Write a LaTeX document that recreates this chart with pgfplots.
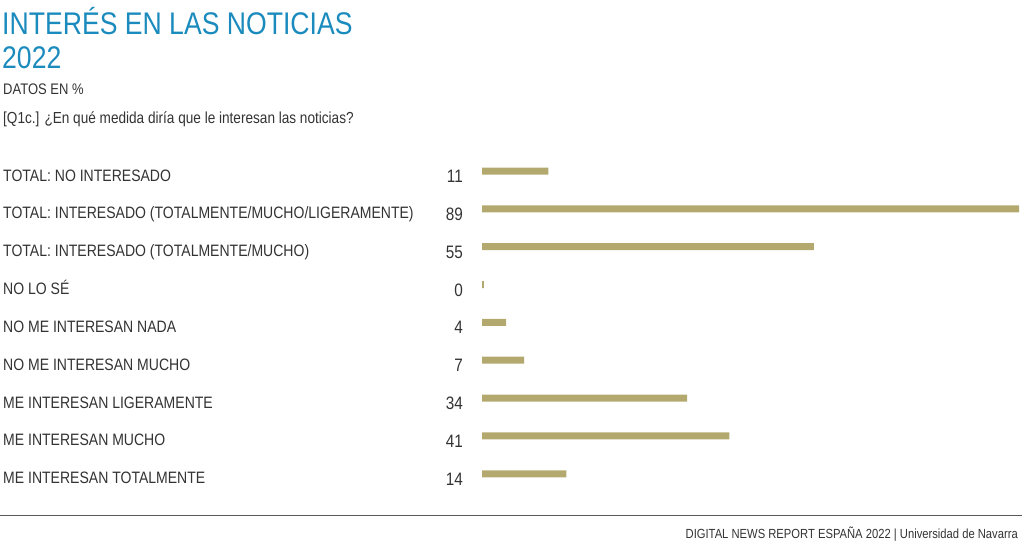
\documentclass[border=0pt]{standalone}
\usepackage{fontspec}
\setmainfont{Liberation Sans}[FakeStretch=0.85]
\usepackage{pgfplots}
\pgfplotsset{compat=1.18}
\definecolor{titleblue}{HTML}{1B8BBD}
\definecolor{bargold}{HTML}{B3A96E}
\definecolor{txt}{HTML}{333333}
\begin{document}
\begin{tikzpicture}
\useasboundingbox (0,0) rectangle (1024pt,-543pt);
\node[anchor=base west, inner sep=0pt, text=titleblue, font=\fontsize{31.3}{33}\selectfont] at (2pt,-35pt) {INTERÉS EN LAS NOTICIAS};
\node[anchor=base west, inner sep=0pt, text=titleblue, font=\fontsize{31.3}{33}\selectfont] at (2pt,-68pt) {2022};
\node[anchor=base west, inner sep=0pt, text=txt, font=\fontsize{15.3}{17}\selectfont] at (3pt,-94pt) {DATOS EN \%};
\node[anchor=base west, inner sep=0pt, text=txt, font=\fontsize{16}{18}\selectfont] at (3pt,-123pt) {[Q1c.] ¿En qué medida diría que le interesan las noticias?};
\begin{axis}[
  at={(482pt,-152.1pt)}, anchor=north west,
  scale only axis, width=537pt, height=340.6pt,
  xmin=0, xmax=89, ymin=-0.5, ymax=8.5, y dir=reverse,
  hide x axis, axis y line*=left, y axis line style={draw=none}, major tick length=0pt,
  clip=false,
  ytick={0,...,8},
  yticklabels={TOTAL: NO INTERESADO, TOTAL: INTERESADO (TOTALMENTE/MUCHO/LIGERAMENTE), TOTAL: INTERESADO (TOTALMENTE/MUCHO), NO LO SÉ, NO ME INTERESAN NADA, NO ME INTERESAN MUCHO, ME INTERESAN LIGERAMENTE, ME INTERESAN MUCHO, ME INTERESAN TOTALMENTE},
  yticklabel style={anchor=base west, inner sep=0pt, xshift=-479pt, yshift=-10pt, text=txt, font=\fontsize{16.5}{18}\selectfont},
]
\addplot[xbar, bar width=7pt, fill=bargold, draw=none] coordinates {
(11,0) (89,1) (55,2) (0.3,3) (4,4) (7,5) (34,6) (41,7) (14,8)};
\addplot[draw=none, mark=none, point meta=explicit symbolic,
  nodes near coords={\pgfplotspointmeta},
  every node near coord/.style={anchor=base east, inner sep=0pt, xshift=-19pt, yshift=-11.5pt, text=txt, font=\fontsize{18}{20}\selectfont}]
  coordinates {(0,0)[11] (0,1)[89] (0,2)[55] (0,3)[0] (0,4)[4] (0,5)[7] (0,6)[34] (0,7)[41] (0,8)[14]};
\end{axis}
\draw[color=black!65, line width=1pt] (0,-515pt) -- (1022pt,-515pt);
\node[anchor=base east, inner sep=0pt, text=txt, font=\fontsize{13.2}{15}\selectfont] at (1018pt,-538pt) {DIGITAL NEWS REPORT ESPAÑA 2022 | Universidad de Navarra};
\end{tikzpicture}
\end{document}
